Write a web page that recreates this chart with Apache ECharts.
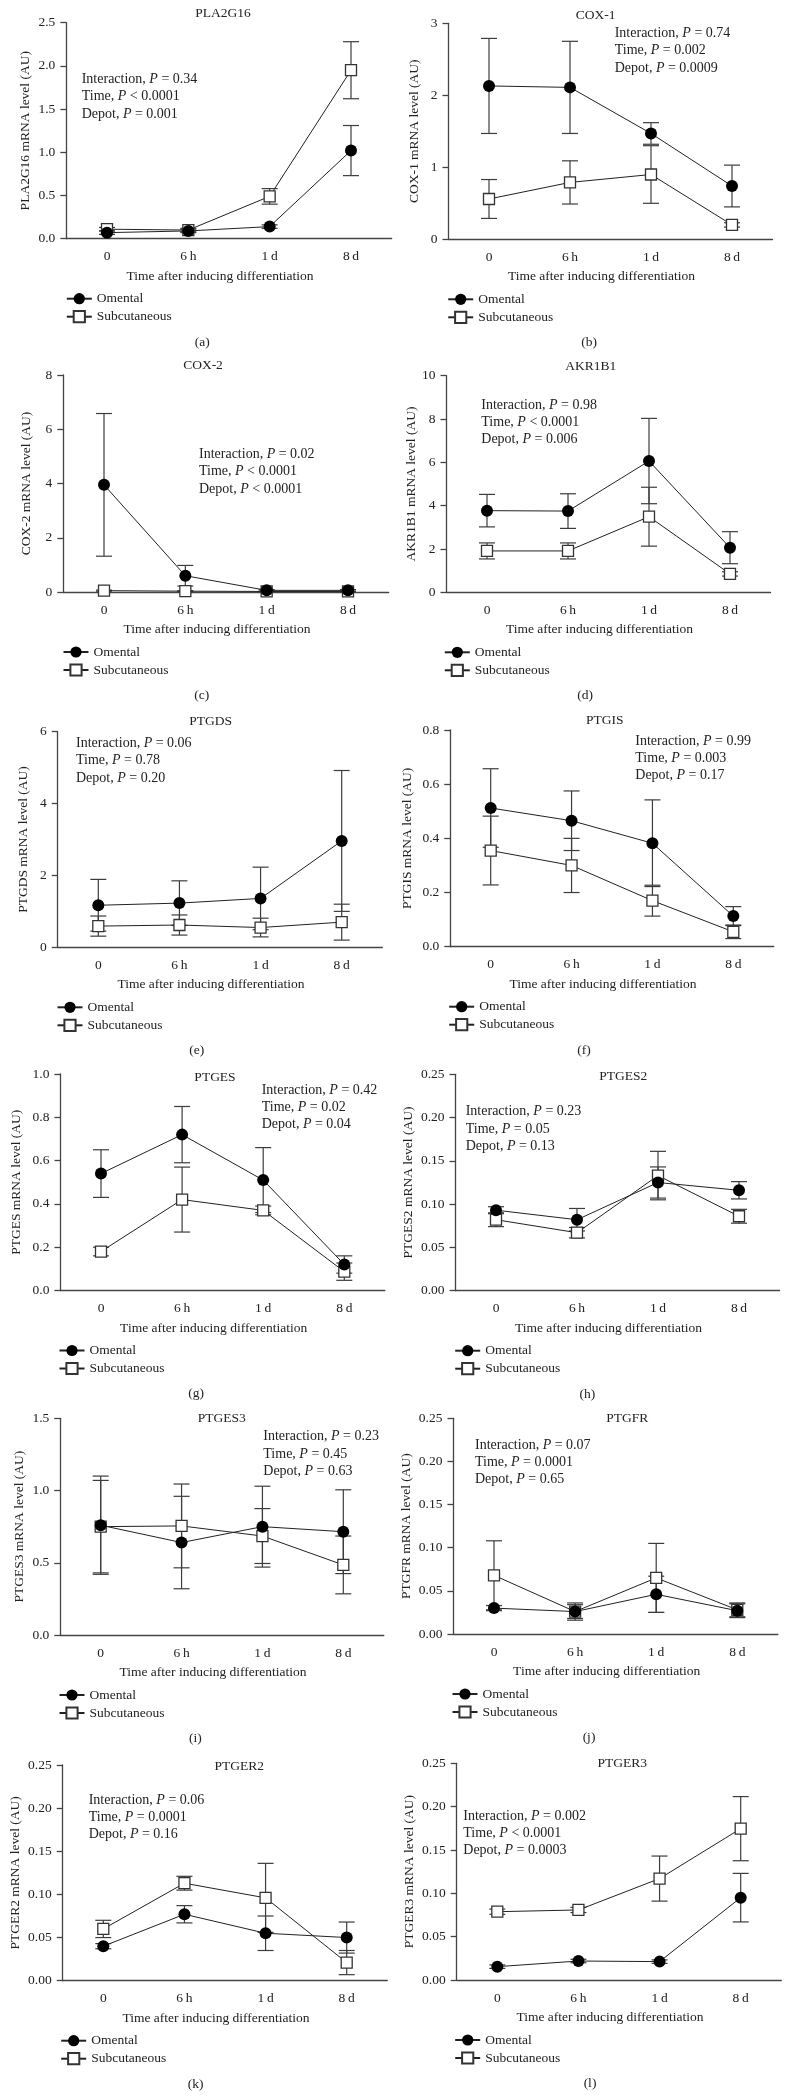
<!DOCTYPE html>
<html><head><meta charset="utf-8">
<script src="https://cdn.jsdelivr.net/npm/echarts@6/dist/echarts.min.js"></script>
<style>html,body{margin:0;padding:0;background:#fff}#c{width:789px;height:2098px}</style>
</head><body><div id="c"></div>
<script>
// ---------- DATA ----------
const categories = ['0', '6\u2009h', '1\u2009d', '8\u2009d'];
const seriesNames = ['Omental', 'Subcutaneous'];
const xAxisTitle = 'Time after inducing differentiation';

const pla2g16Omental = [0.07, 0.09, 0.14, 1.02];
const pla2g16OmentalErr = [0.02, 0.02, 0.02, 0.29];
const pla2g16Subcut = [0.11, 0.10, 0.49, 1.95];
const pla2g16SubcutErr = [0.02, 0.02, 0.09, 0.33];
const pla2g16Stats = ['Interaction, P = 0.34', 'Time, P < 0.0001', 'Depot, P = 0.001'];

const cox1Omental = [2.13, 2.11, 1.47, 0.74];
const cox1OmentalErr = [0.66, 0.64, 0.15, 0.29];
const cox1Subcut = [0.56, 0.79, 0.90, 0.20];
const cox1SubcutErr = [0.27, 0.30, 0.40, 0.03];
const cox1Stats = ['Interaction, P = 0.74', 'Time, P = 0.002', 'Depot, P = 0.0009'];

const cox2Omental = [3.95, 0.60, 0.06, 0.06];
const cox2OmentalErr = [2.63, 0.38, 0.03, 0.03];
const cox2Subcut = [0.05, 0.03, 0.02, 0.02];
const cox2SubcutErr = [0.02, 0.02, 0.01, 0.01];
const cox2Stats = ['Interaction, P = 0.02', 'Time, P < 0.0001', 'Depot, P < 0.0001'];

const akr1b1Omental = [3.77, 3.75, 6.06, 2.06];
const akr1b1OmentalErr = [0.75, 0.80, 1.97, 0.74];
const akr1b1Subcut = [1.91, 1.91, 3.49, 0.85];
const akr1b1SubcutErr = [0.37, 0.37, 1.36, 0.10];
const akr1b1Stats = ['Interaction, P = 0.98', 'Time, P < 0.0001', 'Depot, P = 0.006'];

const ptgdsOmental = [1.17, 1.23, 1.36, 2.96];
const ptgdsOmentalErr = [0.72, 0.62, 0.87, 1.96];
const ptgdsSubcut = [0.59, 0.62, 0.55, 0.70];
const ptgdsSubcutErr = [0.28, 0.28, 0.26, 0.50];
const ptgdsStats = ['Interaction, P = 0.06', 'Time, P = 0.78', 'Depot, P = 0.20'];

const ptgisOmental = [0.512, 0.465, 0.382, 0.113];
const ptgisOmentalErr = [0.145, 0.110, 0.160, 0.035];
const ptgisSubcut = [0.355, 0.300, 0.170, 0.055];
const ptgisSubcutErr = [0.127, 0.100, 0.057, 0.025];
const ptgisStats = ['Interaction, P = 0.99', 'Time, P = 0.003', 'Depot, P = 0.17'];

const ptgesOmental = [0.54, 0.72, 0.51, 0.12];
const ptgesOmentalErr = [0.11, 0.13, 0.15, 0.04];
const ptgesSubcut = [0.18, 0.42, 0.37, 0.087];
const ptgesSubcutErr = [0.02, 0.15, 0.02, 0.04];
const ptgesStats = ['Interaction, P = 0.42', 'Time, P = 0.02', 'Depot, P = 0.04'];

const ptges2Omental = [0.093, 0.082, 0.125, 0.116];
const ptges2OmentalErr = [0.004, 0.013, 0.018, 0.010];
const ptges2Subcut = [0.082, 0.067, 0.133, 0.086];
const ptges2SubcutErr = [0.008, 0.006, 0.028, 0.008];
const ptges2Stats = ['Interaction, P = 0.23', 'Time, P = 0.05', 'Depot, P = 0.13'];

const ptges3Omental = [0.76, 0.64, 0.75, 0.715];
const ptges3OmentalErr = [0.34, 0.32, 0.28, 0.29];
const ptges3Subcut = [0.75, 0.755, 0.685, 0.485];
const ptges3SubcutErr = [0.32, 0.29, 0.19, 0.20];
const ptges3Stats = ['Interaction, P = 0.23', 'Time, P = 0.45', 'Depot, P = 0.63'];

const ptgfrOmental = [0.030, 0.026, 0.046, 0.027];
const ptgfrOmentalErr = [0.003, 0.008, 0.021, 0.008];
const ptgfrSubcut = [0.068, 0.026, 0.065, 0.028];
const ptgfrSubcutErr = [0.040, 0.010, 0.040, 0.008];
const ptgfrStats = ['Interaction, P = 0.07', 'Time, P = 0.0001', 'Depot, P = 0.65'];

const ptger2Omental = [0.040, 0.077, 0.055, 0.050];
const ptger2OmentalErr = [0.003, 0.010, 0.020, 0.018];
const ptger2Subcut = [0.060, 0.113, 0.096, 0.021];
const ptger2SubcutErr = [0.010, 0.008, 0.040, 0.014];
const ptger2Stats = ['Interaction, P = 0.06', 'Time, P = 0.0001', 'Depot, P = 0.16'];

const ptger3Omental = [0.0154, 0.0219, 0.0212, 0.095];
const ptger3OmentalErr = [0.002, 0.002, 0.002, 0.028];
const ptger3Subcut = [0.0788, 0.0808, 0.117, 0.1746];
const ptger3SubcutErr = [0.003, 0.003, 0.026, 0.037];
const ptger3Stats = ['Interaction, P = 0.002', 'Time, P < 0.0001', 'Depot, P = 0.0003'];

// ---------- PANELS (data refs + layout) ----------
const panels = [
  {label:'(a)', gene:'PLA2G16', om:pla2g16Omental, omErr:pla2g16OmentalErr, sc:pla2g16Subcut, scErr:pla2g16SubcutErr, stats:pla2g16Stats, yMax:2.5, yStep:0.5, dec:1,
   L:{cat0:107, cat3:351, top:22.7, zero:238.7, titleX:223, titleY:13, statX:81.7, statY:79.3, yNameDist:41.3, legX:78.3, labX:202.3}},
  {label:'(b)', gene:'COX-1', om:cox1Omental, omErr:cox1OmentalErr, sc:cox1Subcut, scErr:cox1SubcutErr, stats:cox1Stats, yMax:3, yStep:1, dec:0,
   L:{cat0:489, cat3:732, top:23.3, zero:239.3, titleX:595.7, titleY:15, statX:614.7, statY:33.3, yNameDist:34.3, legX:459.7, labX:589}},
  {label:'(c)', gene:'COX-2', om:cox2Omental, omErr:cox2OmentalErr, sc:cox2Subcut, scErr:cox2SubcutErr, stats:cox2Stats, yMax:8, yStep:2, dec:0,
   L:{cat0:104, cat3:348, top:375, zero:592, titleX:203, titleY:365, statX:199, statY:454.3, yNameDist:36.6, legX:75, labX:201.7}},
  {label:'(d)', gene:'AKR1B1', om:akr1b1Omental, omErr:akr1b1OmentalErr, sc:akr1b1Subcut, scErr:akr1b1SubcutErr, stats:akr1b1Stats, yMax:10, yStep:2, dec:0,
   L:{cat0:487, cat3:730, top:375.7, zero:592.3, titleX:590.7, titleY:366.7, statX:481.3, statY:405, yNameDist:35, legX:456.3, labX:585}},
  {label:'(e)', gene:'PTGDS', om:ptgdsOmental, omErr:ptgdsOmentalErr, sc:ptgdsSubcut, scErr:ptgdsSubcutErr, stats:ptgdsStats, yMax:6, yStep:2, dec:0,
   L:{cat0:98.3, cat3:341.7, top:731.7, zero:947.3, titleX:210.7, titleY:721.7, statX:76, statY:743.3, yNameDist:34.3, legX:69, labX:196.7}},
  {label:'(f)', gene:'PTGIS', om:ptgisOmental, omErr:ptgisOmentalErr, sc:ptgisSubcut, scErr:ptgisSubcutErr, stats:ptgisStats, yMax:0.8, yStep:0.2, dec:1,
   L:{cat0:490.7, cat3:733.3, top:730, zero:946.7, titleX:604.7, titleY:720, statX:635.3, statY:741, yNameDist:43.3, legX:460.7, labX:584}},
  {label:'(g)', gene:'PTGES', om:ptgesOmental, omErr:ptgesOmentalErr, sc:ptgesSubcut, scErr:ptgesSubcutErr, stats:ptgesStats, yMax:1.0, yStep:0.2, dec:1,
   L:{cat0:101, cat3:344.3, top:1074, zero:1290.5, titleX:215, titleY:1077, statX:261.7, statY:1090, yNameDist:43.6, legX:71, labX:196}},
  {label:'(h)', gene:'PTGES2', om:ptges2Omental, omErr:ptges2OmentalErr, sc:ptges2Subcut, scErr:ptges2SubcutErr, stats:ptges2Stats, yMax:0.25, yStep:0.05, dec:2,
   L:{cat0:496, cat3:739, top:1074.3, zero:1290.7, titleX:623.3, titleY:1076, statX:465.7, statY:1111.7, yNameDist:47.3, legX:466.7, labX:587.3}},
  {label:'(i)', gene:'PTGES3', om:ptges3Omental, omErr:ptges3OmentalErr, sc:ptges3Subcut, scErr:ptges3SubcutErr, stats:ptges3Stats, yMax:1.5, yStep:0.5, dec:1,
   L:{cat0:100.7, cat3:343.3, top:1418.3, zero:1635, titleX:221.7, titleY:1418, statX:263.3, statY:1436.7, yNameDist:41, legX:71, labX:195.3}},
  {label:'(j)', gene:'PTGFR', om:ptgfrOmental, omErr:ptgfrOmentalErr, sc:ptgfrSubcut, scErr:ptgfrSubcutErr, stats:ptgfrStats, yMax:0.25, yStep:0.05, dec:2,
   L:{cat0:494, cat3:737.3, top:1418.3, zero:1634, titleX:627.3, titleY:1418, statX:475, statY:1445, yNameDist:46.6, legX:464, labX:589}},
  {label:'(k)', gene:'PTGER2', om:ptger2Omental, omErr:ptger2OmentalErr, sc:ptger2Subcut, scErr:ptger2SubcutErr, stats:ptger2Stats, yMax:0.25, yStep:0.05, dec:2,
   L:{cat0:103.3, cat3:346.7, top:1765, zero:1980.7, titleX:239.3, titleY:1766, statX:88.7, statY:1800, yNameDist:47.7, legX:72.7, labX:195.7}},
  {label:'(l)', gene:'PTGER3', om:ptger3Omental, omErr:ptger3OmentalErr, sc:ptger3Subcut, scErr:ptger3SubcutErr, stats:ptger3Stats, yMax:0.25, yStep:0.05, dec:2,
   L:{cat0:497.3, cat3:740.7, top:1763.3, zero:1980, titleX:622.3, titleY:1763, statX:463.3, statY:1816, yNameDist:47.7, legX:466.7, labX:590}}
];

// ---------- BUILD ----------
const FONT = '"Liberation Serif", "DejaVu Serif", serif';
const TXT = '#222';
const AX = '#444';
const FS = 13.5;
const FS_STAT = 14;

function renderErr(params, api) {
  const x = api.value(0), m = api.value(1), e = api.value(2);
  const hi = api.coord([x, m + e]);
  const lo = api.coord([x, m - e]);
  const w = 8;
  const style = {stroke: '#3c3c3c', lineWidth: 1.2};
  return {type: 'group', children: [
    {type: 'line', shape: {x1: hi[0], y1: hi[1], x2: lo[0], y2: lo[1]}, style: style},
    {type: 'line', shape: {x1: hi[0] - w, y1: hi[1], x2: hi[0] + w, y2: hi[1]}, style: style},
    {type: 'line', shape: {x1: lo[0] - w, y1: lo[1], x2: lo[0] + w, y2: lo[1]}, style: style}
  ]};
}

const grid = [], xAxis = [], yAxis = [], series = [], legend = [], graphic = [];

panels.forEach((p, i) => {
  const L = p.L;
  const sp = (L.cat3 - L.cat0) / 3;
  const left = L.cat0 - sp / 2;
  grid.push({left: left, top: L.top, width: sp * 4, height: L.zero - L.top});
  xAxis.push({
    type: 'category', gridIndex: i, data: categories, boundaryGap: true,
    axisLine: {lineStyle: {color: AX, width: 1.3}},
    axisTick: {alignWithLabel: true, length: 6, lineStyle: {color: AX, width: 1.3}},
    axisLabel: {color: TXT, fontFamily: FONT, fontSize: FS, margin: 11},
    splitLine: {show: false},
    name: xAxisTitle, nameLocation: 'middle', nameGap: 30.5,
    nameTextStyle: {color: TXT, fontFamily: FONT, fontSize: FS, padding: [0, 18, 0, 0]}
  });
  yAxis.push({
    type: 'value', gridIndex: i, min: 0, max: p.yMax, interval: p.yStep,
    axisLine: {show: true, lineStyle: {color: AX, width: 1.3}},
    axisTick: {show: true, length: 6, lineStyle: {color: AX, width: 1.3}},
    axisLabel: {color: TXT, fontFamily: FONT, fontSize: FS, margin: 11,
      formatter: v => v.toFixed(p.dec)},
    splitLine: {show: false},
    name: p.gene + ' mRNA level (AU)', nameLocation: 'middle', nameRotate: 90,
    nameGap: L.yNameDist - 7,
    nameTextStyle: {color: TXT, fontFamily: FONT, fontSize: FS}
  });
  series.push({
    type: 'custom', name: 'errOm' + i, xAxisIndex: i, yAxisIndex: i, z: 1,
    renderItem: renderErr, data: p.om.map((v, k) => [k, v, p.omErr[k]]), silent: true
  });
  series.push({
    type: 'custom', name: 'errSc' + i, xAxisIndex: i, yAxisIndex: i, z: 1,
    renderItem: renderErr, data: p.sc.map((v, k) => [k, v, p.scErr[k]]), silent: true
  });
  series.push({
    type: 'line', name: seriesNames[1], xAxisIndex: i, yAxisIndex: i, z: 3,
    data: p.sc, symbol: 'rect', symbolSize: 11,
    lineStyle: {color: '#222', width: 1},
    itemStyle: {color: '#fff', borderColor: '#333', borderWidth: 1.3},
    animation: false
  });
  series.push({
    type: 'line', name: seriesNames[0], xAxisIndex: i, yAxisIndex: i, z: 4,
    data: p.om, symbol: 'circle', symbolSize: 12,
    lineStyle: {color: '#222', width: 1},
    itemStyle: {color: '#000', borderColor: '#000', borderWidth: 0},
    animation: false
  });
  legend.push({
    data: seriesNames, orient: 'vertical', left: L.legX - 12.5 - 5, top: L.zero + 48,
    itemWidth: 25, itemHeight: 14, itemGap: 4, selectedMode: false,
    textStyle: {color: TXT, fontFamily: FONT, fontSize: FS}
  });
  graphic.push({type: 'text', x: L.titleX, y: L.titleY, silent: true,
    style: {text: p.gene, fill: TXT, font: FS + 'px ' + FONT, textAlign: 'center', textVerticalAlign: 'middle'}});
  graphic.push({type: 'text', x: L.labX, y: L.zero + 103.3, silent: true,
    style: {text: p.label, fill: TXT, font: FS + 'px ' + FONT, textAlign: 'center', textVerticalAlign: 'middle'}});
  p.stats.forEach((s, k) => {
    graphic.push({type: 'text', x: L.statX, y: L.statY + k * 17.3, silent: true,
      style: {text: s.replace(', P', ', {i|P}'), fill: TXT, fontFamily: FONT, fontSize: FS_STAT,
        textAlign: 'left', textVerticalAlign: 'middle',
        rich: {i: {fontStyle: 'italic', fontFamily: FONT, fontSize: FS_STAT, fill: TXT}}}});
  });
});

const chart = echarts.init(document.getElementById('c'), null, {renderer: 'canvas'});
chart.setOption({
  backgroundColor: '#fff', animation: false,
  grid, xAxis, yAxis, series, legend, graphic
});
</script></body></html>
